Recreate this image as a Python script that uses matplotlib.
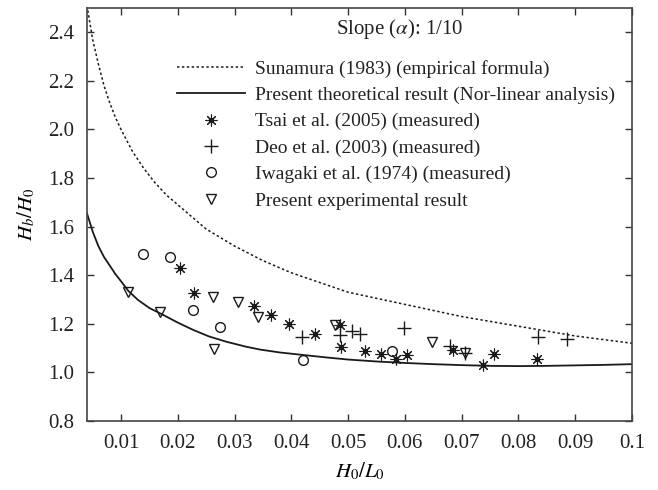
import numpy as np
import matplotlib
matplotlib.use("Agg")
import matplotlib.pyplot as plt
from matplotlib.legend_handler import HandlerTuple

plt.rcParams['font.family'] = ['Liberation Serif', 'DejaVu Serif']
plt.rcParams['mathtext.fontset'] = 'stix'

# Sunamura (1983) empirical curve
suna_x = [0.004, 0.005, 0.006, 0.007, 0.008, 0.009, 0.010, 0.012, 0.014, 0.016,
          0.018, 0.020, 0.025, 0.030, 0.035, 0.040, 0.045, 0.050, 0.060, 0.070,
          0.080, 0.090, 0.100]
suna_y = [2.51, 2.37, 2.27, 2.18, 2.11, 2.05, 2.00, 1.91, 1.84, 1.78,
          1.73, 1.69, 1.59, 1.52, 1.46, 1.41, 1.37, 1.33, 1.28, 1.23,
          1.19, 1.15, 1.12]

# present theoretical result (non-linear analysis)
theo_x = [0.004, 0.005, 0.006, 0.007, 0.008, 0.009, 0.010, 0.0113, 0.013, 0.015,
          0.0169, 0.020, 0.0227, 0.0255, 0.0286, 0.032, 0.0345, 0.038, 0.042, 0.046,
          0.050, 0.055, 0.060, 0.065, 0.070, 0.075, 0.080, 0.085, 0.090, 0.095, 0.100]
theo_y = [1.655, 1.58, 1.52, 1.475, 1.44, 1.405, 1.375, 1.335, 1.298, 1.265,
          1.243, 1.205, 1.175, 1.148, 1.126, 1.106, 1.094, 1.082, 1.072, 1.062,
          1.053, 1.045, 1.039, 1.034, 1.030, 1.027, 1.026, 1.027, 1.029, 1.031, 1.034]

tsai_x = [0.0203, 0.0228, 0.0334, 0.0364, 0.0395, 0.0442, 0.0486, 0.0487, 0.0530,
          0.0557, 0.0584, 0.0604, 0.0684, 0.0738, 0.0757, 0.0832]
tsai_y = [1.431, 1.328, 1.273, 1.235, 1.199, 1.158, 1.196, 1.103, 1.089,
          1.074, 1.054, 1.073, 1.092, 1.030, 1.074, 1.054]

deo_x = [0.0419, 0.0486, 0.0506, 0.0521, 0.0598, 0.0680, 0.0706, 0.0835, 0.0886]
deo_y = [1.144, 1.154, 1.170, 1.158, 1.181, 1.110, 1.080, 1.144, 1.137]

iwa_x = [0.0139, 0.0187, 0.0227, 0.0275, 0.0420, 0.0578]
iwa_y = [1.487, 1.476, 1.257, 1.186, 1.050, 1.088]

exp_x = [0.0113, 0.0169, 0.0262, 0.0264, 0.0306, 0.0342, 0.0477, 0.0648, 0.0706]
exp_y = [1.330, 1.247, 1.309, 1.095, 1.291, 1.228, 1.194, 1.125, 1.079]

xticks = [0.01, 0.02, 0.03, 0.04, 0.05, 0.06, 0.07, 0.08, 0.09, 0.1]
xlabels = ['0.01', '0.02', '0.03', '0.04', '0.05', '0.06', '0.07', '0.08', '0.09', '0.1']
yticks = [0.8, 1.0, 1.2, 1.4, 1.6, 1.8, 2.0, 2.2, 2.4]
ylabels = ['0.8', '1.0', '1.2', '1.4', '1.6', '1.8', '2.0', '2.2', '2.4']

fig = plt.figure(figsize=(6.58, 4.90), dpi=100)
ax = fig.add_axes([0.1322, 0.1408, 0.8283, 0.8429])

k = '#1a1a1a'
l1, = ax.plot(suna_x, suna_y, ls=(0, (1.6, 1.6)), color=k, lw=1.1)
l2, = ax.plot(theo_x, theo_y, '-', color=k, lw=1.3)
t1, = ax.plot(tsai_x, tsai_y, ls='none', marker=(8, 2, 0), ms=8.5, mew=0.8, color=k)
t2, = ax.plot(tsai_x, tsai_y, ls='none', marker='o', ms=2.8, color=k)
d1, = ax.plot(deo_x, deo_y, ls='none', marker='+', ms=10, mew=1.0, color=k)
c1, = ax.plot(iwa_x, iwa_y, ls='none', marker='o', ms=7, mew=1.0, mfc='none', mec=k)
e1, = ax.plot(exp_x, exp_y, ls='none', marker='v', ms=7.5, mew=1.0, mfc='none', mec=k)

ax.set_xlim(0.004, 0.1)
ax.set_ylim(0.8, 2.5)
ax.set_xticks(xticks)
ax.set_xticklabels(xlabels)
ax.set_yticks(yticks)
ax.set_yticklabels(ylabels)
ax.tick_params(direction='in', top=True, right=True, length=5, width=1.0,
               labelsize=15, colors='#333333', labelcolor='#222222', pad=9)
for s in ax.spines.values():
    s.set_color('#444444')
    s.set_linewidth(1.2)

ax.set_xlabel('$H_0/L_0$', fontsize=15, labelpad=6)
ax.set_ylabel('$H_b/H_0$', fontsize=15, labelpad=8)

ax.text(0.574, 0.950, 'Slope ($\\alpha$): 1/10', transform=ax.transAxes,
        ha='center', va='center', fontsize=15, color='#222222')

leg = ax.legend([l1, l2, (t1, t2), d1, c1, e1],
                ['Sunamura (1983) (empirical formula)',
                 'Present theoretical result (Nor-linear analysis)',
                 'Tsai et al. (2005) (measured)',
                 'Deo et al. (2003) (measured)',
                 'Iwagaki et al. (1974) (measured)',
                 'Present experimental result'],
                handler_map={tuple: HandlerTuple(ndivide=1, pad=0)},
                fontsize=14, frameon=False, loc='upper left',
                bbox_to_anchor=(0.165, 0.875), handlelength=3.5,
                handletextpad=0.5, labelspacing=0.45, borderaxespad=0,
                borderpad=0)
for txt in leg.get_texts():
    txt.set_color('#222222')

fig.savefig('out.png', dpi=100)
